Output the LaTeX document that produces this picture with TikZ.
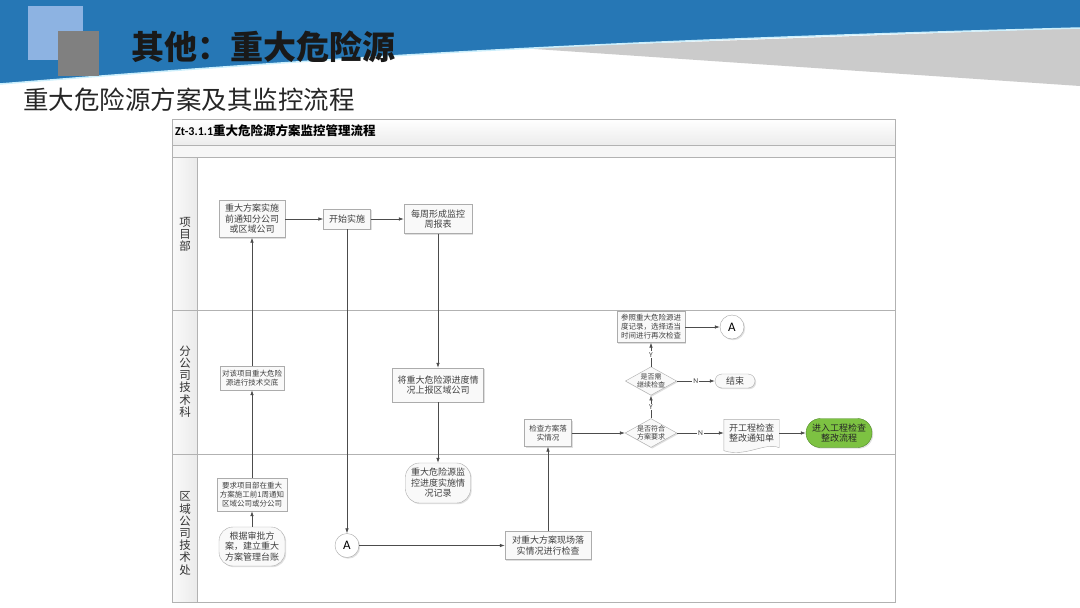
\documentclass[tikz,border=0pt]{standalone}
\usepackage{fontspec}
\setsansfont{Carlito}
\newfontfamily\cjk{Noto Sans CJK SC}
\usepackage{xcolor}
\usetikzlibrary{arrows.meta, positioning, calc, shapes.geometric, backgrounds, shadows}
\definecolor{bandblue}{HTML}{2677B5}
\definecolor{lightsq}{HTML}{8DB3E2}
\definecolor{wedgegray}{HTML}{CBCBCB}
\definecolor{okgreen}{HTML}{7DC242}
\definecolor{okgreenline}{HTML}{4E8A25}

\begin{document}
\begin{tikzpicture}[x=1pt, y=-1pt,
        proc/.style={rectangle, draw=gray!65, fill=gray!5, text=black!75, align=center, inner sep=1pt, drop shadow={shadow xshift=1.2pt, shadow yshift=-1.2pt, opacity=0.25}},
        rnd/.style={proc, rounded corners=#1},
        docbox/.style={rectangle, text=black!75, align=center, inner sep=1pt},
        dec/.style={diamond, draw=gray!65, fill=gray!5, text=black!75, align=center, aspect=1.8, inner sep=-0.5pt, font=\cjk\fontsize{7}{8.3}\selectfont, drop shadow={shadow xshift=1.2pt, shadow yshift=-1.2pt, opacity=0.25}},
        conA/.style={circle, draw=gray!70, fill=white, minimum size=24pt, inner sep=0pt, font=\sffamily\fontsize{13}{13}\selectfont, drop shadow={shadow xshift=1.2pt, shadow yshift=-1.2pt, opacity=0.25}},
        lanelbl/.style={align=center, inner sep=0pt, text=black!80, font=\cjk\fontsize{11.5}{12.2}\selectfont},
        f9/.style={font=\cjk\fontsize{9}{10.5}\selectfont},
        f7/.style={font=\cjk\fontsize{7.5}{9}\selectfont},
        flow/.style={-{Latex[length=5pt, width=3.5pt]}, draw=black!70, line width=0.6pt},
        yn/.style={fill=white, inner sep=1pt, font=\sffamily\fontsize{7.5}{8}\selectfont, text=black!75},
    ]
        \useasboundingbox (0,0) rectangle (1080,608);
        \begin{scope}[on background layer]
            \fill[white] (0,0) rectangle (1080,608);
        \end{scope}

        \fill[wedgegray] (520,48) -- (1080,28) -- (1080,86) -- cycle;
        \fill[bandblue] (0,0) -- (1080,0) -- (1080,28) .. controls (620,40) and (360,55) .. (0,84) -- cycle;
        \draw[white!80!cyan, line width=1.5pt] (1080,28) .. controls (620,40) and (360,55) .. (0,84);
        \fill[lightsq] (28,6) rectangle (83,60);
        \fill[gray] (58,31) rectangle (99,76);
        \node[anchor=west, inner sep=0pt, text=black!90, font=\cjk\bfseries\fontsize{33}{36}\selectfont] (title) at (131,47) {其他：重大危险源};
        \node[anchor=west, inner sep=0pt, text=black!85, font=\cjk\fontsize{25.5}{28}\selectfont] (sub) at (23,100) {重大危险源方案及其监控流程};

        \shade[top color=white, bottom color=gray!15] (172,119) rectangle (895,145);
        \fill[gray!7] (172,145) rectangle (895,157);
        \shade[left color=gray!4, right color=gray!16] (172,157) rectangle (197,602);
        \draw[gray!60] (172,145) -- (895,145) (172,157) -- (895,157) (172,310) -- (895,310) (172,454) -- (895,454) (197,157) -- (197,602);
        \draw[gray!60, line width=0.9pt] (172,119) rectangle (895,602);
        \node[anchor=west, inner sep=0pt, font=\fontsize{12}{13}\selectfont] (ctitle) at (175,131) {\sffamily\bfseries Zt-3.1.1\cjk\fontsize{12.5}{13}\selectfont 重大危险源方案监控管理流程};
        \node[lanelbl] (lxm) at (185,234.5) {项\\目\\部};
        \node[lanelbl] (lfgs) at (185,381.5) {分\\公\\司\\技\\术\\科};
        \node[lanelbl] (lqy) at (185,533.5) {区\\域\\公\\司\\技\\术\\处};

        \node[proc, f9, minimum width=66pt, minimum height=37pt] (notify) at (252,219) {重大方案实施\\前通知分公司\\或区域公司};
        \node[proc, f9, minimum width=47pt, minimum height=20pt] (start) at (347,219) {开始实施};
        \node[proc, f9, minimum width=68pt, minimum height=29pt] (weekly) at (438,219) {每周形成监控\\周报表};
        \node[proc, f7, minimum width=64pt, minimum height=24pt] (brief) at (252,378) {对该项目重大危险\\源进行技术交底};
        \node[proc, f9, minimum width=91pt, minimum height=34pt] (report) at (438,385) {将重大危险源进度情\\况上报区域公司};
        \node[proc, f7, minimum width=70pt, minimum height=33pt] (require) at (252,494.5) {要求项目部在重大\\方案施工前1周通知\\区域公司或分公司};
        \node[rnd=14pt, f9, minimum width=66pt, minimum height=39pt] (ledger) at (252,546.5) {根据审批方\\案，建立重大\\方案管理台账};
        \node[rnd=14pt, f9, minimum width=65pt, minimum height=40pt] (record) at (438,483) {重大危险源监\\控进度实施情\\况记录};
        \node[conA] (ca) at (347,545.5) {A};
        \node[proc, f9, minimum width=86pt, minimum height=28pt] (check) at (548,545.5) {对重大方案现场落\\实情况进行检查};
        \node[proc, f7, minimum width=47pt, minimum height=27pt] (verify) at (548,433) {检查方案落\\实情况};
        \node[dec] (fit) at (651,433) {是否符合\\方案要求};
        \node[dec] (more) at (651,381) {是否需\\继续检查};
        \node[proc, f7, minimum width=68pt, minimum height=31pt] (recheck) at (651,327) {参照重大危险源进\\度记录，选择适当\\时间进行再次检查};
        \node[conA] (cb) at (732,327) {A};
        \node[rnd=7pt, f9, minimum width=40pt, minimum height=14pt] (stop) at (735,381) {结束};
        \node[docbox, f9, minimum width=55pt, minimum height=27pt] (notice) at (751.5,433) {开工程检查\\整改通知单};
        \node[rnd=14.5pt, f9, draw=okgreenline, fill=okgreen, text=black!85, minimum width=66pt, minimum height=29pt] (rectify) at (839,433) {进入工程检查\\整改流程};
        \begin{scope}[on background layer]
            \draw[draw=gray!65, fill=gray!5] (notice.north west) -- (notice.north east) -- ([yshift=-1pt]notice.south east) .. controls +(-14,-6) and +(22,7) .. ([yshift=-4pt]notice.south west) -- cycle;
        \end{scope}

        \draw[flow] (ledger) -- (require);
        \draw[flow] (require) -- (brief);
        \draw[flow] (brief) -- (notify);
        \draw[flow] (notify) -- (start);
        \draw[flow] (start) -- (weekly);
        \draw[flow] (start) -- (ca);
        \draw[flow] (weekly) -- (report);
        \draw[flow] (report) -- (record);
        \draw[flow] (ca) -- (check);
        \draw[flow] (check) -- (verify);
        \draw[flow] (verify) -- (fit);
        \draw[flow] (fit) -- node[yn] {N} (notice);
        \draw[flow] (notice) -- (rectify);
        \draw[flow] (fit) -- node[yn] {Y} (more);
        \draw[flow] (more) -- node[yn] {N} (stop);
        \draw[flow] (more) -- node[yn] {Y} (recheck);
        \draw[flow] (recheck) -- (cb);
    \end{tikzpicture}
\end{document}
